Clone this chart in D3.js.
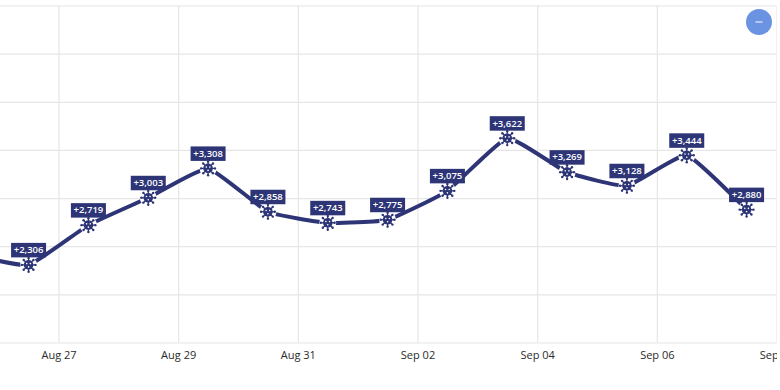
<!DOCTYPE html>
<html lang="en">

<head>
    <meta charset="UTF-8">
    <title>Daily new cases</title>
    <script src="https://d3js.org/d3.v7.min.js"></script>

    <style>
        html, body {
            margin: 0;
            padding: 0;
            background: #fff;
        }

        svg {
            display: block;
        }

        .tick text {
            font-family: "Open Sans", sans-serif;
            font-size: 11px;
            fill: #2b2b2b;
        }

        .bubble text {
            font-family: "Open Sans", sans-serif;
            font-size: 9.5px;
            font-weight: 600;
            fill: #fff;
        }
    </style>
</head>

<body>
    <svg id="chart"></svg>

    <script>
        // days are plotted at noon, ticks sit at midnight
        const days = ["2021-08-25", "2021-08-26", "2021-08-27", "2021-08-28", "2021-08-29", "2021-08-30", "2021-08-31",
            "2021-09-01", "2021-09-02", "2021-09-03", "2021-09-04", "2021-09-05", "2021-09-06", "2021-09-07"];
        const cases = [2420, 2306, 2719, 3003, 3308, 2858, 2743, 2775, 3075, 3622, 3269, 3128, 3444, 2880];
        const tickDays = ["2021-08-27", "2021-08-29", "2021-08-31", "2021-09-02", "2021-09-04", "2021-09-06", "2021-09-08"];
        const yTicks = [1500, 2000, 2500, 3000, 3500, 4000, 4500, 5000];

        const navy = "#2d3577";
        const parse = d3.timeParse("%Y-%m-%d");
        const noon = d => d3.timeHour.offset(parse(d), 12);

        const width = 777, height = 390;
        const svg = d3.select("#chart").attr("width", width).attr("height", height);

        // Aug 27 lands on x=58 and Sep 08 on x=776
        const x = d3.scaleTime()
            .domain([parse("2021-08-27"), parse("2021-09-08")])
            .range([58.5, 776.5]);
        const y = d3.scaleLinear()
            .domain([1500, 5000])
            .range([342.5, 5.5]);

        // horizontal grid
        svg.append("g")
            .attr("transform", "translate(776.5,0)")
            .call(d3.axisLeft(y).tickValues(yTicks).tickSize(777).tickFormat(""))
            .call(g => g.select(".domain").remove())
            .call(g => g.selectAll("line").attr("stroke", "#e6e6e6").attr("stroke-width", 1.2));

        // vertical grid and date labels
        svg.append("g")
            .attr("transform", "translate(0,342.5)")
            .call(d3.axisBottom(x)
                .tickValues(tickDays.map(parse))
                .tickSize(-337)
                .tickPadding(9)
                .tickFormat(d3.timeFormat("%b %d")))
            .call(g => g.select(".domain").remove())
            .call(g => g.selectAll("line").attr("stroke", "#e6e6e6").attr("stroke-width", 1.2));

        const points = days.map((d, i) => ({ date: noon(d), value: cases[i] }));

        // only a little smoothing, the segments are nearly straight
        const line = d3.line()
            .x(d => x(d.date))
            .y(d => y(d.value))
            .curve(d3.curveCardinal.tension(0.6));

        svg.append("path")
            .datum(points)
            .attr("fill", "none")
            .attr("stroke", navy)
            .attr("stroke-width", 4)
            .attr("stroke-linejoin", "round")
            .attr("d", line);

        // first point is off the left edge, no marker for it
        const marks = svg.selectAll(".mark")
            .data(points.slice(1))
            .join("g")
            .attr("class", "mark")
            .attr("transform", d => `translate(${x(d.date)},${y(d.value)})`);

        // virus icon: white halo, body, spikes, small holes
        marks.append("circle").attr("r", 8.5).attr("fill", "#fff");
        marks.append("circle").attr("r", 4.8).attr("fill", navy);

        const angles = d3.range(8).map(i => i * Math.PI / 4);
        marks.selectAll(".spike")
            .data(angles)
            .join("line")
            .attr("class", "spike")
            .attr("x1", a => 4 * Math.cos(a))
            .attr("y1", a => 4 * Math.sin(a))
            .attr("x2", a => 6.6 * Math.cos(a))
            .attr("y2", a => 6.6 * Math.sin(a))
            .attr("stroke", navy)
            .attr("stroke-width", 1.3);
        marks.selectAll(".tip")
            .data(angles)
            .join("circle")
            .attr("class", "tip")
            .attr("cx", a => 6.9 * Math.cos(a))
            .attr("cy", a => 6.9 * Math.sin(a))
            .attr("r", 1.2)
            .attr("fill", navy);
        marks.selectAll(".hole")
            .data([[-1.8, -1.3], [1.8, -1.3], [0, 2]])
            .join("circle")
            .attr("class", "hole")
            .attr("cx", d => d[0])
            .attr("cy", d => d[1])
            .attr("r", 0.8)
            .attr("fill", "#fff");

        // value labels above each marker
        const bubble = marks.append("g")
            .attr("class", "bubble")
            .attr("transform", "translate(0,-15)");
        bubble.append("rect")
            .attr("x", -17.5)
            .attr("y", -7)
            .attr("width", 35)
            .attr("height", 14.5)
            .attr("fill", navy);
        bubble.append("text")
            .attr("text-anchor", "middle")
            .attr("dy", "0.35em")
            .text(d => "+" + d3.format(",")(d.value));

        // collapse button, top right
        svg.append("circle")
            .attr("cx", 759)
            .attr("cy", 22)
            .attr("r", 13)
            .attr("fill", "#6a93e2");
        svg.append("line")
            .attr("x1", 755.5)
            .attr("x2", 762.5)
            .attr("y1", 22)
            .attr("y2", 22)
            .attr("stroke", "#fff")
            .attr("stroke-width", 1);
    </script>
</body>

</html>
